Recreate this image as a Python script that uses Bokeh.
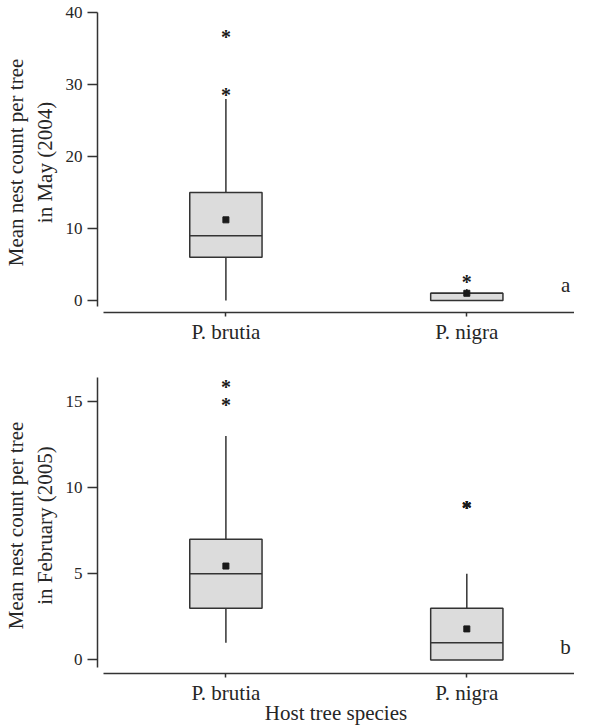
from bokeh.plotting import figure
from bokeh.models import Range1d, FixedTicker, Label, ColumnDataSource
from bokeh.layouts import column
from bokeh.embed import file_html
from bokeh.resources import INLINE
from bokeh.core.properties import value

species = ["P. brutia", "P. nigra"]

# Panel a: May 2004
may_lower = [0, 0]
may_q1 = [6, 0]
may_median = [9, 1]
may_q3 = [15, 1]
may_upper = [28, 1.6]
may_mean = [11.2, 1.0]
may_outliers = [[29, 37], [3]]
may_ticks = [0, 10, 20, 30, 40]

# Panel b: February 2005
feb_lower = [1, 0]
feb_q1 = [3, 0]
feb_median = [5, 1]
feb_q3 = [7, 3]
feb_upper = [13, 5]
feb_mean = [5.45, 1.8]
feb_outliers = [[15, 16], [9, 9, 9]]
feb_ticks = [0, 5, 10, 15]

FONT = "Liberation Serif"
TXT = "#262626"
LINE = "#333333"
BOX_FILL = "#dcdcdc"
HALF = 0.15


def make_panel(lower, q1, med, q3, upper, mean, outliers, ticks, ylabel,
               yrange, ybounds, letter, letter_y, xtitle, height, tborder,
               bborder):
    xs = [i + 1 for i in range(len(species))]
    src = ColumnDataSource(dict(
        x=xs, x0=[x - HALF for x in xs], x1=[x + HALF for x in xs],
        lower=lower, q1=q1, med=med, q3=q3, upper=upper, mean=mean))
    ox, oy = [], []
    for x, outs in zip(xs, outliers):
        for o in outs:
            ox.append(x)
            oy.append(o)
    osrc = ColumnDataSource(dict(x=ox, y=oy, t=["*"] * len(ox)))

    p = figure(width=574, height=height, output_backend="svg",
               toolbar_location=None,
               x_range=Range1d(0.467, 2.447), y_range=Range1d(*yrange),
               min_border_left=91, min_border_right=0, min_border_top=tborder,
               min_border_bottom=bborder)
    p.outline_line_color = None
    p.grid.visible = False
    p.background_fill_color = "white"

    # whiskers
    p.segment(x0="x", y0="q3", x1="x", y1="upper", source=src,
              line_color=LINE, line_width=1.5)
    p.segment(x0="x", y0="q1", x1="x", y1="lower", source=src,
              line_color=LINE, line_width=1.5)
    # boxes
    p.vbar(x="x", width=2 * HALF, bottom="q1", top="q3", source=src,
           fill_color=BOX_FILL, line_color=LINE, line_width=1.5)
    # medians
    p.segment(x0="x0", y0="med", x1="x1", y1="med", source=src,
              line_color=LINE, line_width=1.5)
    # means
    p.scatter(x="x", y="mean", source=src, marker="square", size=6,
              fill_color="#1a1a1a", line_color="#1a1a1a")
    # outliers
    p.text(x="x", y="y", text="t", source=osrc, text_font=value(FONT),
           text_font_size="20px", text_font_style="bold", text_align="center",
           text_baseline="middle", y_offset=3, text_color="#1a1a1a")

    lab = Label(x=2.41, y=letter_y, text=letter, text_font=FONT,
                text_font_size="21px", text_align="center",
                text_baseline="middle", text_color=TXT)
    p.add_layout(lab)

    ya = p.yaxis[0]
    ya.ticker = FixedTicker(ticks=ticks)
    ya.bounds = ybounds
    ya.axis_label = ylabel
    ya.axis_label_text_font = FONT
    ya.axis_label_text_font_size = "21px"
    ya.axis_label_text_font_style = "normal"
    ya.axis_label_text_color = TXT
    ya.axis_label_standoff = 6
    ya.major_label_text_font = FONT
    ya.major_label_text_font_size = "17px"
    ya.major_label_text_color = TXT
    ya.major_label_standoff = 5
    ya.major_tick_out = 10
    ya.major_tick_in = 0
    ya.minor_tick_out = 0
    ya.minor_tick_in = 0
    ya.axis_line_color = LINE
    ya.axis_line_width = 1.5
    ya.major_tick_line_color = LINE
    ya.major_tick_line_width = 1.5

    xa = p.xaxis[0]
    xa.ticker = FixedTicker(ticks=xs)
    xa.major_label_overrides = {x: s for x, s in zip(xs, species)}
    xa.bounds = (0.49, 2.447)
    xa.major_label_text_font = FONT
    xa.major_label_text_font_size = "21px"
    xa.major_label_text_color = TXT
    xa.major_label_standoff = 3
    xa.major_tick_out = 4
    xa.major_tick_in = 0
    xa.minor_tick_out = 0
    xa.minor_tick_in = 0
    xa.axis_line_color = LINE
    xa.axis_line_width = 1.5
    xa.major_tick_line_color = LINE
    xa.major_tick_line_width = 1.5
    if xtitle:
        xa.axis_label = xtitle
        xa.axis_label_text_font = FONT
        xa.axis_label_text_font_size = "21px"
        xa.axis_label_text_font_style = "normal"
        xa.axis_label_text_color = TXT
        xa.axis_label_standoff = -7
    return p


p1 = make_panel(may_lower, may_q1, may_median, may_q3, may_upper, may_mean,
                may_outliers, may_ticks,
                "Mean nest count per tree\nin May (2004)",
                (-1.67, 40), (-0.9, 40), "a", 2.1, None, 366, 12, 54)
p2 = make_panel(feb_lower, feb_q1, feb_median, feb_q3, feb_upper, feb_mean,
                feb_outliers, feb_ticks,
                "Mean nest count per tree\nin February (2005)",
                (-0.79, 16.4), (-0.44, 16.4), "b", 0.76,
                "Host tree species", 361, 11, 50)

layout = column(p1, p2, spacing=0)
open("out.html", "w").write(file_html(layout, INLINE))
